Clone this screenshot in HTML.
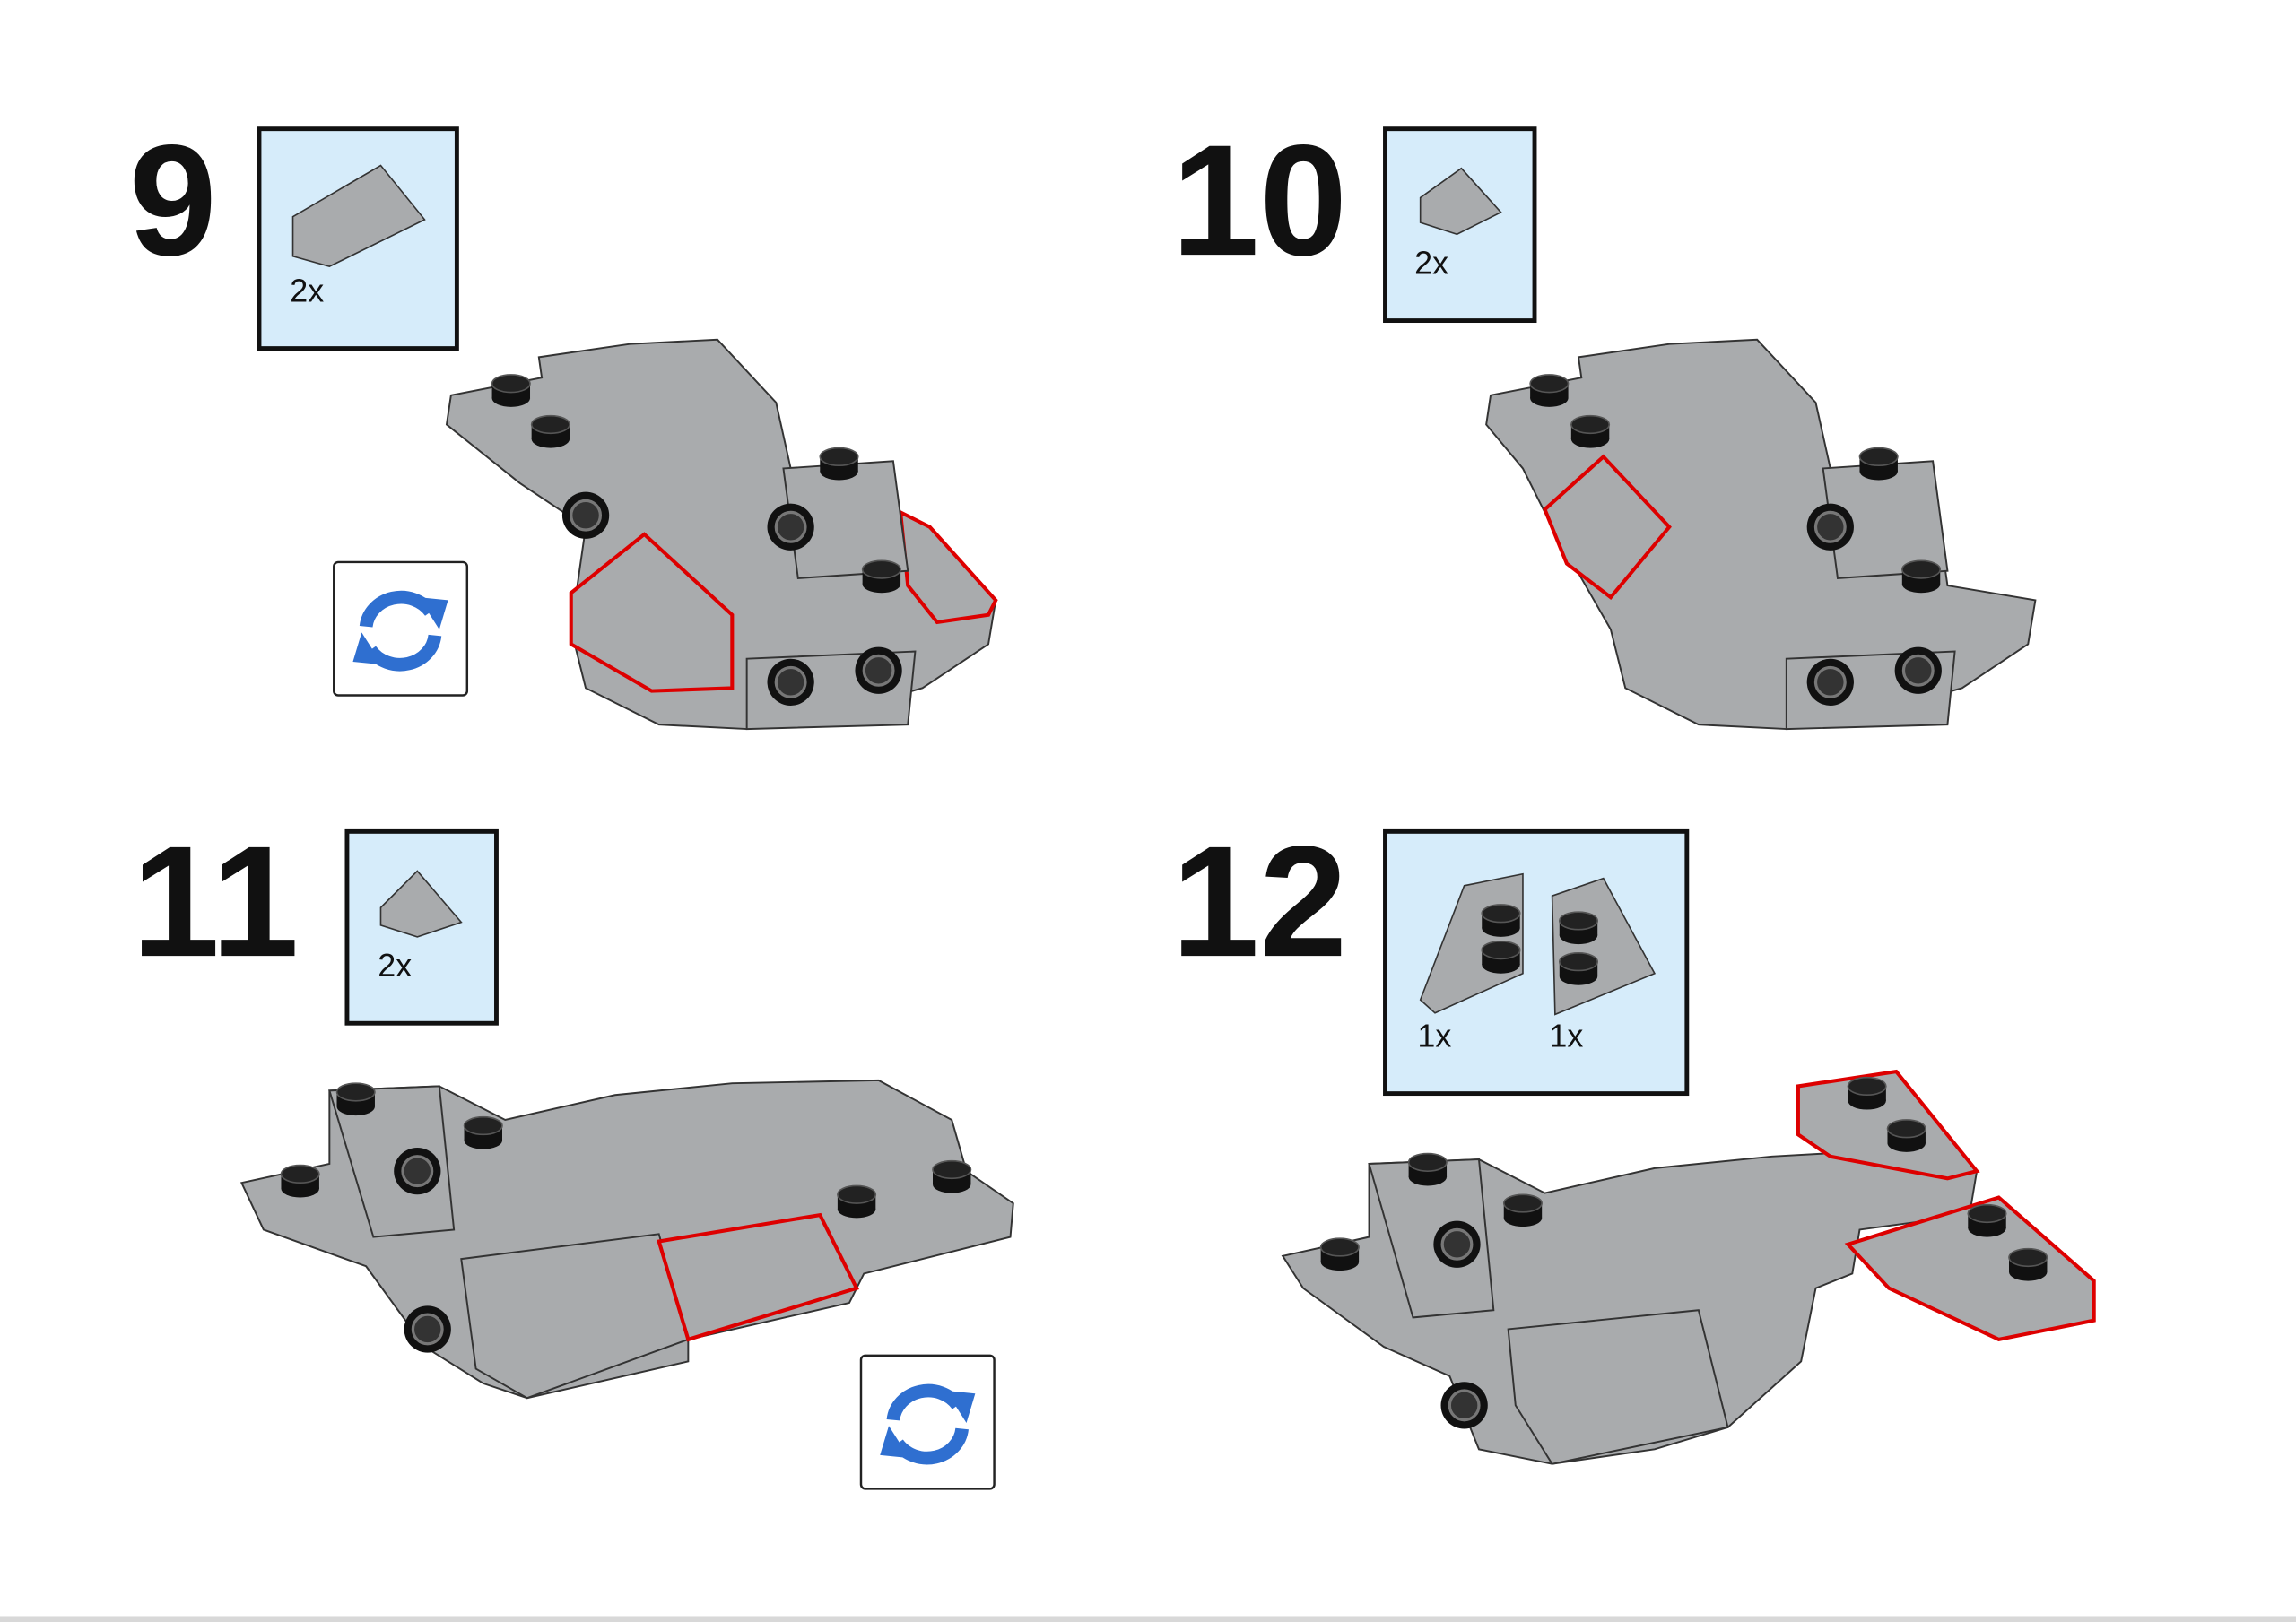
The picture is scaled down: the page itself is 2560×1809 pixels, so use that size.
<!DOCTYPE html>
<html><head><meta charset="utf-8"><style>
html,body{margin:0;padding:0;background:#fff;width:2560px;height:1809px;overflow:hidden}
svg{display:block}
text{font-family:"Liberation Sans",Arial,sans-serif}
</style></head><body>
<svg width="2560" height="1809" viewBox="0 0 1568 1108" xmlns="http://www.w3.org/2000/svg">
<defs>
<g id="stud"><rect x="-13" y="-6" width="26" height="10" fill="#111"/><ellipse cx="0" cy="4" rx="13" ry="6" fill="#111"/><ellipse cx="0" cy="-6" rx="13" ry="6" fill="#222" stroke="#555" stroke-width="1"/></g>
<g id="hole"><circle r="16" fill="#111"/><circle r="10" fill="#333" stroke="#777" stroke-width="2"/></g>
<g id="rot"><rect x="0" y="0" width="91" height="91" rx="3" fill="#fff" stroke="#222" stroke-width="1.5"/>
<path d="M22 44 A24 22 0 0 1 66 34" fill="none" stroke="#2f6fd0" stroke-width="9"/><polygon points="58,24 78,26 72,46" fill="#2f6fd0"/>
<path d="M69 50 A24 22 0 0 1 25 60" fill="none" stroke="#2f6fd0" stroke-width="9"/><polygon points="33,70 13,68 19,48" fill="#2f6fd0"/></g>
</defs>
<rect x="0" y="1104" width="1568" height="4" fill="#d8d8d8"/>
<g font-weight="bold" fill="#111" font-size="108">
<text x="88" y="174">9</text><text x="800" y="174">10</text><text x="90" y="653">11</text><text x="800" y="653">12</text></g>
<g fill="#d6ecfa" stroke="#111" stroke-width="3">
<rect x="177" y="88" width="135" height="150"/><rect x="946" y="88" width="102" height="131"/>
<rect x="237" y="568" width="102" height="131"/><rect x="946" y="568" width="206" height="179"/></g>
<g fill="#111" font-size="22"><text x="198" y="206">2x</text><text x="966" y="187">2x</text><text x="258" y="667">2x</text><text x="968" y="715">1x</text><text x="1058" y="715">1x</text></g>
<g fill="#a9abad" stroke="#333" stroke-width="1">
<polygon points="200,148 260,113 290,150 225,182 200,175"/><polygon points="970,135 998,115 1025,145 995,160 970,152"/>
<polygon points="260,620 285,595 315,630 285,640 260,632"/>
<polygon points="970,683 1000,605 1040,597 1040,665 980,692"/><polygon points="1060,612 1095,600 1130,665 1062,693"/></g>
<use href="#stud" x="1025" y="630"/><use href="#stud" x="1025" y="655"/><use href="#stud" x="1078" y="635"/><use href="#stud" x="1078" y="663"/>
<use href="#rot" x="228" y="384"/><use href="#rot" x="588" y="926"/>
<!-- model 9 -->
<g fill="#a9abad" stroke="#333" stroke-width="1.2">
<polygon points="308,270 370,258 368,244 430,235 490,232 530,275 540,320 610,330 620,400 680,410 675,440 630,470 560,490 510,498 450,495 400,470 390,430 400,360 355,330 330,310 305,290"/>
<polygon points="390,405 440,365 500,420 500,470 445,472 390,440" stroke="#d00" stroke-width="2.5"/>
<polygon points="615,350 635,360 680,410 675,420 640,425 620,400" stroke="#d00" stroke-width="2.5"/>
<polygon points="535,320 610,315 620,390 545,395"/>
<polygon points="510,450 625,445 620,495 510,498"/></g>
<use href="#stud" x="349" y="268"/><use href="#stud" x="376" y="296"/><use href="#stud" x="573" y="318"/><use href="#stud" x="602" y="395"/>
<use href="#hole" x="400" y="352"/><use href="#hole" x="540" y="360"/><use href="#hole" x="540" y="466"/><use href="#hole" x="600" y="458"/>
<!-- model 10 -->
<g fill="#a9abad" stroke="#333" stroke-width="1.2">
<polygon points="1018,270 1080,258 1078,244 1140,235 1200,232 1240,275 1250,320 1320,330 1330,400 1390,410 1385,440 1340,470 1270,490 1220,498 1160,495 1110,470 1100,430 1060,360 1040,320 1015,290"/>
<polygon points="1055,348 1095,312 1140,360 1100,408 1070,385" stroke="#d00" stroke-width="2.5"/>
<polygon points="1245,320 1320,315 1330,390 1255,395"/>
<polygon points="1220,450 1335,445 1330,495 1220,498"/></g>
<use href="#stud" x="1058" y="268"/><use href="#stud" x="1086" y="296"/><use href="#stud" x="1283" y="318"/><use href="#stud" x="1312" y="395"/>
<use href="#hole" x="1250" y="360"/><use href="#hole" x="1250" y="466"/><use href="#hole" x="1310" y="458"/>
<!-- model 11 -->
<g fill="#a9abad" stroke="#333" stroke-width="1.2">
<polygon points="165,808 225,795 225,745 300,742 345,765 420,748 500,740 600,738 650,765 660,800 692,822 690,845 590,870 580,890 470,915 470,930 360,955 330,945 290,920 250,865 180,840"/>
<polygon points="225,745 300,742 310,840 255,845"/>
<polygon points="315,860 450,843 470,915 360,955 325,935" />
<polygon points="450,848 560,830 585,880 470,915" stroke="#d00" stroke-width="2.5"/></g>
<use href="#stud" x="243" y="752"/><use href="#stud" x="205" y="808"/><use href="#stud" x="330" y="775"/><use href="#stud" x="585" y="822"/><use href="#stud" x="650" y="805"/>
<use href="#hole" x="285" y="800"/><use href="#hole" x="292" y="908"/>
<!-- model 12 -->
<g fill="#a9abad" stroke="#333" stroke-width="1.2">
<polygon points="876,858 935,845 935,795 1010,792 1055,815 1130,798 1210,790 1300,785 1350,800 1345,830 1270,840 1265,870 1240,880 1230,930 1180,975 1130,990 1060,1000 1010,990 990,940 945,920 890,880"/>
<polygon points="935,795 1010,792 1020,895 965,900"/>
<polygon points="1228,742 1295,732 1350,800 1330,805 1250,790 1228,775" stroke="#d00" stroke-width="2.5"/>
<polygon points="1262,850 1365,818 1430,875 1430,902 1365,915 1290,880" stroke="#d00" stroke-width="2.5"/>
<polygon points="1030,908 1160,895 1180,975 1060,1000 1035,960"/></g>
<use href="#stud" x="915" y="858"/><use href="#stud" x="975" y="800"/><use href="#stud" x="1040" y="828"/><use href="#stud" x="1275" y="748"/><use href="#stud" x="1302" y="777"/><use href="#stud" x="1357" y="835"/><use href="#stud" x="1385" y="865"/>
<use href="#hole" x="995" y="850"/><use href="#hole" x="1000" y="960"/>
</svg>
</body></html>
